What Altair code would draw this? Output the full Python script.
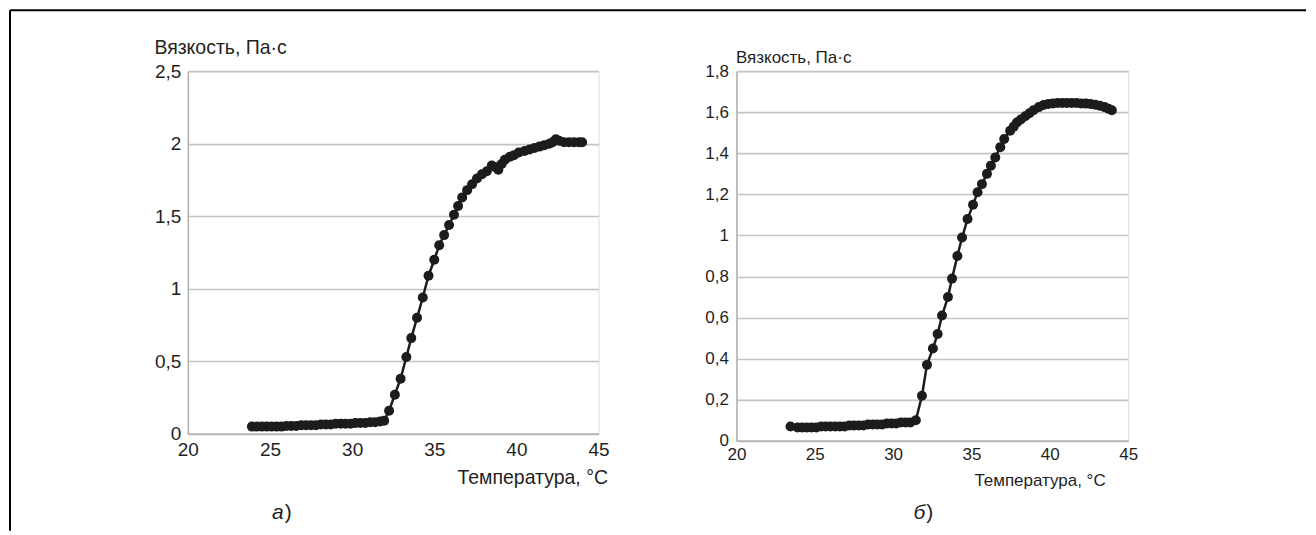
import altair as alt
import pandas as pd

# ---------------- data ----------------
left_temp = [23.9, 24.2, 24.5, 24.8, 25.1, 25.4, 25.7, 26.0, 26.3, 26.6, 26.9, 27.2, 27.5, 27.8,
             28.1, 28.4, 28.7, 29.0, 29.3, 29.6, 29.9, 30.2, 30.5, 30.8, 31.1, 31.4, 31.7, 31.95,
             32.25, 32.6, 32.95, 33.3, 33.6, 33.95, 34.3, 34.65, 35.0, 35.3, 35.6, 35.9, 36.2,
             36.45, 36.7, 37.0, 37.3, 37.6, 37.9, 38.2, 38.5, 38.7, 38.9, 39.1, 39.3, 39.6, 39.85,
             40.15, 40.5, 40.8, 41.1, 41.4, 41.7, 42.0, 42.2, 42.4, 42.6, 42.9, 43.2, 43.5, 43.8, 44.0]
left_visc = [0.05, 0.05, 0.05, 0.05, 0.05, 0.05, 0.05, 0.055, 0.055, 0.055, 0.06, 0.06, 0.06, 0.06,
             0.065, 0.065, 0.065, 0.07, 0.07, 0.07, 0.07, 0.075, 0.075, 0.075, 0.08, 0.08, 0.085, 0.09,
             0.16, 0.27, 0.38, 0.53, 0.66, 0.80, 0.94, 1.09, 1.20, 1.30, 1.37, 1.44, 1.51,
             1.57, 1.63, 1.68, 1.72, 1.76, 1.79, 1.81, 1.85, 1.84, 1.82, 1.86, 1.89, 1.91, 1.92,
             1.94, 1.95, 1.96, 1.97, 1.98, 1.99, 2.00, 2.01, 2.03, 2.02, 2.01, 2.01, 2.01, 2.01, 2.01]

right_temp = [23.45, 23.9, 24.2, 24.5, 24.8, 25.1, 25.4, 25.7, 26.0, 26.3, 26.6, 26.9, 27.2, 27.5,
              27.8, 28.1, 28.4, 28.7, 29.0, 29.3, 29.6, 29.9, 30.2, 30.5, 30.8, 31.1, 31.45,
              31.84, 32.16, 32.54, 32.84, 33.12, 33.5, 33.76, 34.1, 34.4, 34.75, 35.1, 35.39, 35.67,
              35.99, 36.24, 36.52, 36.84, 37.09, 37.47, 37.7, 37.9, 38.15, 38.43, 38.7, 38.96, 39.3,
              39.6, 39.9, 40.2, 40.5, 40.8, 41.1, 41.4, 41.7, 42.0, 42.3, 42.6, 42.9, 43.2, 43.5,
              43.75, 43.96]
right_visc = [0.07, 0.065, 0.065, 0.065, 0.065, 0.065, 0.07, 0.07, 0.07, 0.07, 0.07, 0.07, 0.075, 0.075,
              0.075, 0.075, 0.08, 0.08, 0.08, 0.08, 0.085, 0.085, 0.085, 0.09, 0.09, 0.09, 0.10,
              0.22, 0.37, 0.45, 0.52, 0.61, 0.70, 0.79, 0.90, 0.99, 1.08, 1.15, 1.21, 1.25,
              1.30, 1.34, 1.38, 1.43, 1.47, 1.51, 1.53, 1.55, 1.565, 1.58, 1.595, 1.61, 1.625,
              1.635, 1.64, 1.643, 1.645, 1.645, 1.645, 1.645, 1.645, 1.643, 1.642, 1.64, 1.637, 1.632, 1.625,
              1.617, 1.61]

x_ticks = [20, 25, 30, 35, 40, 45]
left_y_ticks = [0, 0.5, 1, 1.5, 2, 2.5]
right_y_ticks = [0, 0.2, 0.4, 0.6, 0.8, 1, 1.2, 1.4, 1.6, 1.8]

y_title = "Вязкость, Па·с"
x_title = "Температура, °C"
left_letter = "а"
right_letter = "б"

# ---------------- style ----------------
FONT = "Liberation Sans, Arial, sans-serif"
INK = "#1e1b1c"
TXT = "#1f1f1f"
GRID = "#c4c4c4"
DOMAIN = "#b0b0b0"
LABEL_EXPR = "replace(toString(datum.value), '.', ',')"


def panel(temp, visc, yticks, ymax, width, height, fs_lab, fs_title,
          ytx, yty, xtx, xty, xlabpad, ylabpad, letter, letter_x, letter_y, frame=False):
    df = pd.DataFrame({"t": temp, "v": visc})
    x = alt.X("t:Q",
              scale=alt.Scale(domain=[20, 45], nice=False, zero=False),
              axis=alt.Axis(values=x_ticks, grid=False, ticks=False, tickSize=0,
                            labelPadding=xlabpad, labelFontSize=fs_lab, labelFont=FONT,
                            labelColor=TXT, labelFlush=False, labelOverlap=False,
                            domainColor=DOMAIN, domainWidth=1.5,
                            title=x_title, titleFont=FONT, titleFontSize=fs_title,
                            titleFontWeight="normal", titleColor=TXT, titleAlign="right",
                            titleBaseline="alphabetic", titleX=xtx, titleY=xty))
    y = alt.Y("v:Q",
              scale=alt.Scale(domain=[0, ymax], nice=False, zero=True),
              axis=alt.Axis(values=yticks, grid=True, gridColor=GRID, gridWidth=1.6,
                            ticks=False, tickSize=0, labelPadding=ylabpad,
                            labelFontSize=fs_lab, labelFont=FONT, labelColor=TXT,
                            labelFlush=False, labelOverlap=False, labelExpr=LABEL_EXPR,
                            domainColor=DOMAIN, domainWidth=1.5,
                            title=y_title, titleFont=FONT, titleFontSize=fs_title,
                            titleFontWeight="normal", titleColor=TXT, titleAngle=0,
                            titleAlign="left", titleBaseline="alphabetic",
                            titleX=ytx, titleY=yty))
    base = alt.Chart(df)
    line = base.mark_line(color=INK, strokeWidth=2.5).encode(x=x, y=y)
    pts = base.mark_circle(color=INK, size=100, opacity=1).encode(x="t:Q", y="v:Q")

    let_df = pd.DataFrame({"s": [letter]})
    par_df = pd.DataFrame({"s": [")"]})
    let = alt.Chart(let_df).mark_text(font=FONT, fontSize=21, fontStyle="italic", align="right",
                                      baseline="alphabetic", color=TXT).encode(
        x=alt.value(letter_x), y=alt.value(letter_y), text="s:N")
    par = alt.Chart(par_df).mark_text(font=FONT, fontSize=21, align="left",
                                      baseline="alphabetic", color=TXT).encode(
        x=alt.value(letter_x + 1), y=alt.value(letter_y), text="s:N")
    layers = [line, pts, let, par]
    if frame:
        fdf = pd.DataFrame({"a": [0]})
        top = alt.Chart(fdf).mark_rule(color="black", strokeWidth=2).encode(
            x=alt.value(-178), x2=alt.value(1119), y=alt.value(-61))
        left = alt.Chart(fdf).mark_rule(color="black", strokeWidth=2).encode(
            x=alt.value(-178), y=alt.value(-61), y2=alt.value(460))
        layers += [top, left]
    return alt.layer(*layers).properties(width=width, height=height)


left_chart = panel(left_temp, left_visc, left_y_ticks, 2.5, 411, 363, 19, 19.5,
                   -34, -18, 420, 50, 7, 7, left_letter, 96, 448, frame=True)
right_chart = panel(right_temp, right_visc, right_y_ticks, 1.8, 392, 370, 17, 17,
                    -1, -9, 369, 45, 6, 8, right_letter, 189, 448)

chart = alt.hconcat(left_chart, right_chart, spacing=138, bounds="flush").properties(
    padding={"left": 0, "top": 0, "right": 0, "bottom": 0}
).configure_view(stroke=DOMAIN, strokeWidth=1.5).configure(background="white")

chart.save("out.html", embed_options={"renderer": "svg", "actions": False})
